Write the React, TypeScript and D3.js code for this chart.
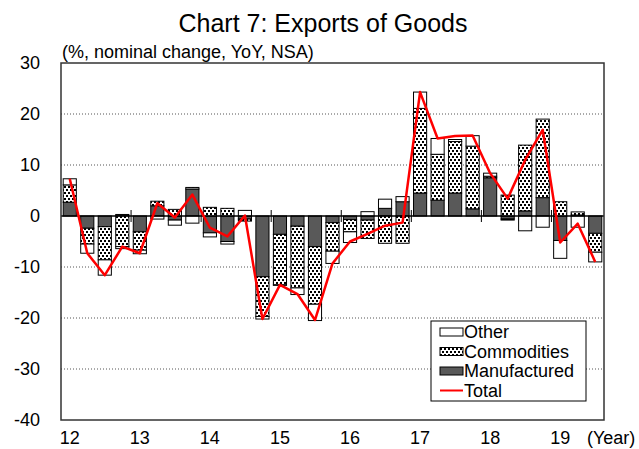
import React from 'react';
import * as d3 from 'd3';

const years = ['12', '13', '14', '15', '16', '17', '18', '19'];
const quarters = [
  '12Q1', '12Q2', '12Q3', '12Q4', '13Q1', '13Q2', '13Q3', '13Q4',
  '14Q1', '14Q2', '14Q3', '14Q4', '15Q1', '15Q2', '15Q3', '15Q4',
  '16Q1', '16Q2', '16Q3', '16Q4', '17Q1', '17Q2', '17Q3', '17Q4',
  '18Q1', '18Q2', '18Q3', '18Q4', '19Q1', '19Q2', '19Q3',
];
const manufactured = [2.7, -2.4, -2.1, 0.3, -3.1, 2.0, -0.8, 5.3, -3.3, -5.0, -0.6, -11.9, -3.6, -2.0, -6.0, -1.3,
  -0.7, -0.8, 1.5, 2.8, 4.5, 3.1, 4.5, 1.4, 7.5, -0.6, 1.0, 3.6, -4.8, 0.2, -3.4];
const commodities = [3.4, -3.1, -6.5, -6.0, -3.6, 0.9, 1.3, 0.3, 1.7, 1.5, -0.4, -7.8, -9.9, -12.1, -11.3, -5.6,
  -2.4, -3.6, -5.35, -5.35, 16.6, 9.0, 10.1, 12.3, 0.3, 4.1, 12.9, 15.4, 2.8, 0.6, -3.7];
const other = [1.2, -1.8, -3.0, -0.4, -0.7, -0.6, -1.0, -1.4, -0.8, -0.5, 1.1, -0.5, -0.1, -1.3, -3.2, -2.4,
  -2.1, 0.85, 1.8, 1.0, 3.2, 3.1, 0.4, 2.05, 0.6, -0.2, -2.9, -2.2, -3.5, -2.2, -1.9];
const total = [7.3, -7.3, -11.6, -6.0, -7.3, 2.5, -0.3, 4.2, -2.3, -4.0, 0.1, -20.2, -13.5, -15.3, -20.4, -9.3,
  -5.0, -3.5, -1.9, -1.3, 24.3, 15.2, 15.7, 15.8, 8.4, 3.4, 11.0, 16.9, -5.2, -1.5, -9.0];
const yTicks = [30, 20, 10, 0, -10, -20, -30, -40];

const keys = ['manufactured', 'commodities', 'other'];
const fills: Record<string, string> = {
  manufactured: '#595959',
  commodities: 'url(#dots)',
  other: '#ffffff',
};

const font = '"Liberation Sans", Arial, sans-serif';

const App = () => {
  const left = 61, right = 604, top = 63, bottom = 420;

  const x = d3.scaleBand().domain(quarters).range([left, right]).paddingInner(0.25).paddingOuter(0.125);
  const y = d3.scaleLinear().domain([-40, 30]).range([bottom, top]);

  const rows = quarters.map((q, i) => ({
    q,
    manufactured: manufactured[i],
    commodities: commodities[i],
    other: other[i],
  }));
  const series = d3.stack<any>().keys(keys).offset(d3.stackOffsetDiverging)(rows);

  const cx = (q: string) => (x(q) as number) + x.bandwidth() / 2;
  const line = d3.line<number>()
    .x((d, i) => cx(quarters[i]))
    .y(d => y(d));

  const gap = (x.step() - x.bandwidth()) / 2;
  const boundaries = years.slice(1).map(yr => (x(yr + 'Q1') as number) - gap);

  const legend = [
    { label: 'Other', fill: fills.other },
    { label: 'Commodities', fill: fills.commodities },
    { label: 'Manufactured', fill: fills.manufactured },
  ];

  return (
    <svg width={639} height={449} style={{ position: 'absolute', left: 0, top: 0, background: '#fff' }}
      fontFamily={font}>
      <defs>
        <pattern id="dots" width={4} height={6} patternUnits="userSpaceOnUse">
          <rect width={4} height={6} fill="#fff" />
          <rect x={0} y={0} width={2} height={2} fill="#000" />
          <rect x={2} y={3} width={2} height={2} fill="#000" />
        </pattern>
      </defs>

      <text x={323} y={32} textAnchor="middle" fontSize={25}>Chart 7: Exports of Goods</text>
      <text x={62} y={58} fontSize={18}>(%, nominal change, YoY, NSA)</text>

      {/* gridlines */}
      {yTicks.filter(t => t !== 0 && t !== 30 && t !== -40).map(t => (
        <line key={t} x1={left} x2={right} y1={y(t)} y2={y(t)} stroke="#555" strokeDasharray="1,2" />
      ))}

      {/* y labels */}
      {yTicks.map(t => (
        <text key={t} x={40} y={y(t)} dy="0.35em" textAnchor="end" fontSize={18}>{t}</text>
      ))}

      {/* bars */}
      {series.map(s => (
        <g key={s.key} fill={fills[s.key]} stroke="#000" strokeWidth={1}>
          {s.map((d, i) => (
            Math.abs(d[1] - d[0]) > 0 ? (
              <rect key={i} x={x(quarters[i])} width={x.bandwidth()}
                y={y(Math.max(d[0], d[1]))} height={Math.abs(y(d[0]) - y(d[1]))} />
            ) : null
          ))}
        </g>
      ))}

      {/* zero axis */}
      <line x1={left} x2={right} y1={y(0)} y2={y(0)} stroke="#000" strokeWidth={1.5} />
      {boundaries.map((b, i) => (
        <line key={i} x1={b} x2={b} y1={y(0) - 6} y2={y(0) + 6} stroke="#000" />
      ))}

      {/* total */}
      <path d={line(total) as string} fill="none" stroke="#ff0000" strokeWidth={2.5} strokeLinejoin="round" />

      {/* frame */}
      <rect x={left} y={top} width={right - left} height={bottom - top} fill="none" stroke="#333" strokeWidth={1.5} />

      {/* year labels */}
      {years.map(yr => (
        <text key={yr} x={cx(yr + 'Q1')} y={444} textAnchor="middle" fontSize={18}>{yr}</text>
      ))}
      <text x={587} y={444} fontSize={18}>(Year)</text>

      {/* legend */}
      <rect x={431} y={321} width={155} height={80} fill="#fff" stroke="#000" />
      {legend.map((l, i) => (
        <g key={l.label}>
          <rect x={440} y={328 + i * 19.5} width={23} height={8} fill={l.fill} stroke="#000" />
          <text x={464} y={332 + i * 19.5} dy="0.35em" fontSize={18}>{l.label}</text>
        </g>
      ))}
      <line x1={440} x2={463} y1={390.5} y2={390.5} stroke="#ff0000" strokeWidth={2} />
      <text x={464} y={390.5} dy="0.35em" fontSize={18}>Total</text>
    </svg>
  );
};

export default App;
